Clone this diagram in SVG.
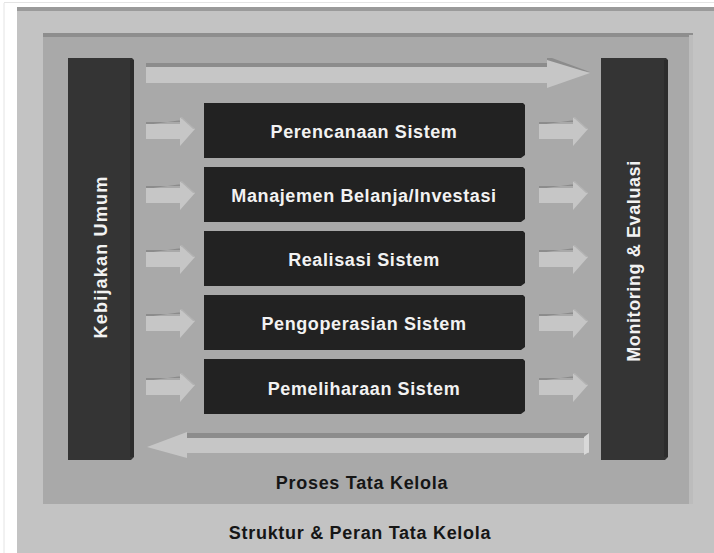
<svg xmlns="http://www.w3.org/2000/svg" width="714" height="553" viewBox="0 0 714 553">
<style>
.lbl{font-family:"Liberation Sans",Arial,sans-serif;font-weight:bold;font-size:18px;fill:#f2f2f2;text-anchor:middle;letter-spacing:0.6px}
.vl{letter-spacing:1.2px}
.cap{font-family:"Liberation Sans",Arial,sans-serif;font-weight:bold;font-size:18px;fill:#161616;text-anchor:middle;letter-spacing:0.7px}
.box{fill:#222222}
.col{fill:#343434}
.arr{fill:#c6c6c6}
.bev{fill:#8c8c8c}
</style>
<defs>
<g id="sa">
<polygon class="bev" points="0,-8 34,-8 34,-13 36,-13 36,-10 0,-5"/>
<polygon class="arr" points="0,-6 34,-6 34,-13 49,-1 34,16 34,9 0,9"/>
<polygon fill="#b2b2b2" points="34,-13 36,-13 49,-1 47,-1"/>
</g>
</defs>
<rect x="0" y="0" width="714" height="553" fill="#ffffff"/>
<line x1="4" y1="3" x2="4" y2="553" stroke="#e4e4e4" stroke-width="1"/>
<line x1="4" y1="2.5" x2="714" y2="2.5" stroke="#e4e4e4" stroke-width="1"/>
<g id="outer-frame">
<rect x="17" y="7" width="697" height="546" fill="#c3c3c3"/>
<rect x="17" y="7" width="697" height="4" fill="#9a9a9a"/>
<text class="cap" x="360" y="539">Struktur &amp; Peran Tata Kelola</text>
</g>
<g id="inner-frame">
<rect x="43" y="33" width="650" height="471" fill="#a9a9a9"/>
<rect x="43" y="33" width="650" height="4" fill="#8e8e8e"/>
<rect x="689" y="35" width="4" height="469" fill="#bcbcbc"/>
<text class="cap" x="362" y="489">Proses Tata Kelola</text>
</g>
<g id="connectors">
<polygon class="bev" points="146,63 547,63 547,58 552,58 590,72 547,67 146,67"/>
<polygon class="arr" points="146,67 547,67 547,60 590,73 547,88 547,83 146,83"/>
<polygon class="bev" points="187,433 589,433 589,438 187,438"/>
<polygon class="arr" points="147,447 187,432 187,438 589,438 589,453 187,453 187,458"/>
<polygon fill="#d8d8d8" points="584,437 589,433 589,452 584,455"/>
<use href="#sa" x="146" y="130"/>
<use href="#sa" x="146" y="194"/>
<use href="#sa" x="146" y="258"/>
<use href="#sa" x="146" y="322"/>
<use href="#sa" x="146" y="386"/>
<use href="#sa" x="539" y="130"/>
<use href="#sa" x="539" y="194"/>
<use href="#sa" x="539" y="258"/>
<use href="#sa" x="539" y="322"/>
<use href="#sa" x="539" y="386"/>
</g>
<g id="kebijakan-umum">
<path class="col" d="M68,58 H132 L134,60 V457 L131,460 H68 Z"/>
<rect x="130" y="60" width="4" height="397" fill="#2c2c2c"/>
<text class="lbl vl" transform="translate(107,257) rotate(-90)">Kebijakan Umum</text>
</g>
<g id="monitoring-evaluasi">
<path class="col" d="M601,58 H666 L668,60 V457 L665,460 H601 Z"/>
<rect x="664" y="60" width="4" height="397" fill="#2c2c2c"/>
<text class="lbl" transform="translate(640,261) rotate(-90)">Monitoring &amp; Evaluasi</text>
</g>
<g id="perencanaan-sistem">
<path class="box" d="M204,103 H523 L525,105 V155 L521,158 H204 Z"/>
<text class="lbl" x="364" y="138">Perencanaan Sistem</text>
</g>
<g id="manajemen-belanja">
<path class="box" d="M204,167 H523 L525,169 V219 L521,222 H204 Z"/>
<text class="lbl" x="364" y="202">Manajemen Belanja/Investasi</text>
</g>
<g id="realisasi-sistem">
<path class="box" d="M204,231 H523 L525,233 V283 L521,286 H204 Z"/>
<text class="lbl" x="364" y="266">Realisasi Sistem</text>
</g>
<g id="pengoperasian-sistem">
<path class="box" d="M204,295 H523 L525,297 V347 L521,350 H204 Z"/>
<text class="lbl" x="364" y="330">Pengoperasian Sistem</text>
</g>
<g id="pemeliharaan-sistem">
<path class="box" d="M204,359 H523 L525,361 V411 L521,414 H204 Z"/>
<text class="lbl" x="364" y="395">Pemeliharaan Sistem</text>
</g>
</svg>
